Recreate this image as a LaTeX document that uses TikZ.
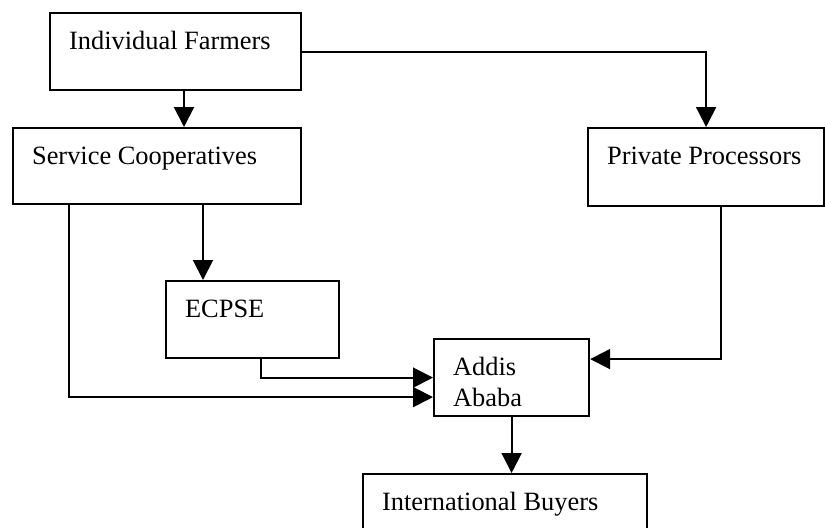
\documentclass[tikz,border=0pt]{standalone}
\usepackage{fontspec}
\setmainfont{Liberation Serif}
\usetikzlibrary{arrows.meta,calc}

\begin{document}
\begin{tikzpicture}[
      x=0.5pt, y=-0.5pt,
      font=\fontsize{13.2}{15.5}\selectfont,
      box/.style={draw, line width=1.1pt, anchor=north west, align=left,
                  inner xsep=9.5pt, inner ysep=0pt, text height=18pt,
                  execute at begin node={\spaceskip=0pt\xspaceskip=0pt}},
      arrow/.style={-{Triangle[length=10pt,width=10pt]}, line width=1pt}
    ]
    \useasboundingbox (0,0) rectangle (825,527);
    \clip (0,0) rectangle (825,527);
    % producers
    \node[box, text width=106.5pt, text depth=20.5pt] (farm) at (49,12) {Individual Farmers};
    \node[box, text width=125pt, text depth=20pt] (coop) at (12,127) {Service Cooperatives};
    \node[box, text width=99pt, text depth=21pt] (proc) at (587,127) {Private Processors};
    % market
    \node[box, text width=67.5pt, text depth=20.5pt] (ecx) at (165,280) {ECPSE};
    \node[box, text width=58.5pt, text depth=20.5pt] (addis) at (433,338) {Addis\\Ababa};
    \node[box, text width=123pt, text depth=22pt] (buyer) at (362,473) {International Buyers};
    % where the lines leave the boxes
    \coordinate (farmout) at ($(farm.south west)+(135,0)$);
    \coordinate (coopmid) at ($(coop.south west)+(191,0)$);
    \coordinate (coopleft) at ($(coop.south west)+(57,0)$);
    \coordinate (ecxout) at ($(ecx.south west)+(96,0)$);
    \coordinate (procout) at ($(proc.south west)+(134,0)$);
    \coordinate (addislow) at ($(addis.west)+(0,19.5)$);
    \coordinate (addishigh) at ($(addis.east)+(0,-18.5)$);
    % flows
    \draw[arrow] (farmout) -- (farmout |- coop.north);
    \draw[arrow] (farm.east) -| (proc.north);
    \draw[arrow] (coopmid) -- (coopmid |- ecx.north);
    \draw[arrow] (coopleft) |- (addislow);
    \draw[arrow] (ecxout) |- (addis.west);
    \draw[arrow] (procout) |- (addishigh);
    \draw[arrow] (addis.south) -- (addis.south |- buyer.north);
  \end{tikzpicture}
\end{document}
